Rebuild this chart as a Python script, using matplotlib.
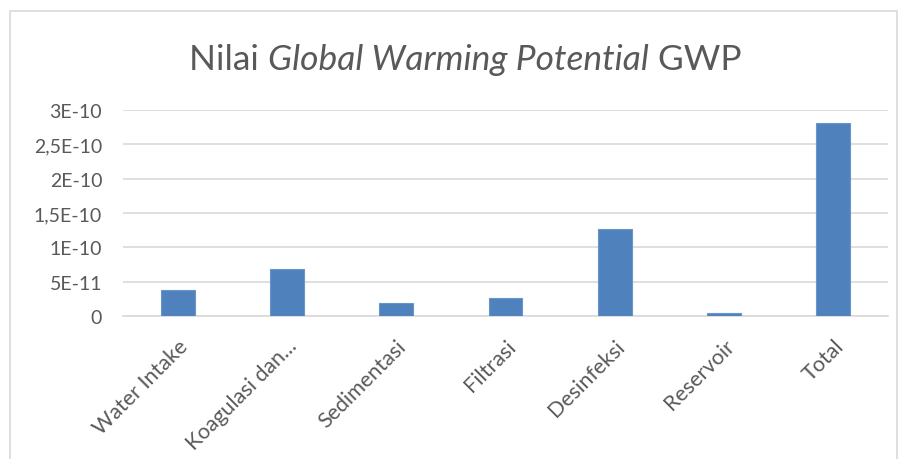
import matplotlib
matplotlib.use("Agg")
import matplotlib.pyplot as plt
from matplotlib.patches import Rectangle

categories = ["Water Intake", "Koagulasi dan...", "Sedimentasi", "Filtrasi",
              "Desinfeksi", "Reservoir", "Total"]
values = [3.8e-11, 6.9e-11, 1.9e-11, 2.6e-11, 1.26e-10, 0.4e-11, 2.81e-10]
ytick_values = [0, 5e-11, 1e-10, 1.5e-10, 2e-10, 2.5e-10, 3e-10]
ytick_labels = ["0", "5E-11", "1E-10", "1,5E-10", "2E-10", "2,5E-10", "3E-10"]
title_parts = [("Nilai ", "normal"), ("Global Warming Potential", "italic"), (" GWP", "normal")]

plt.rcParams['font.family'] = ['Lato', 'DejaVu Sans']
W, H = 907, 460
fig = plt.figure(figsize=(W / 100, H / 100), dpi=100)
fig.patch.set_facecolor("white")

# chart border
fig.patches.append(Rectangle((10 / W, 1 - 470 / H), 887 / W, 458 / H,
                             transform=fig.transFigure, fill=False,
                             edgecolor="#D9D9D9", linewidth=1.2))

ax = fig.add_axes([123 / W, 1 - 317 / H, (888 - 123) / W, (317 - 111) / H])
x = range(len(categories))
ax.bar(x, values, width=0.31, color="#4F81BD", edgecolor="#6A95C8", linewidth=0.8, zorder=3)
ax.set_xlim(-0.5, len(categories) - 0.5)
ax.set_ylim(0, 3e-10)
ax.set_yticks(ytick_values)
ax.set_yticklabels(ytick_labels, fontsize=14, color="#595959")
ax.set_xticks(list(x))
ax.set_xticklabels(categories, rotation=45, ha="right", rotation_mode="anchor",
                   fontsize=15.5, color="#595959")
ax.tick_params(axis="both", length=0)
ax.tick_params(axis="y", pad=15)
ax.tick_params(axis="x", pad=14)
ax.grid(axis="y", color="#D9D9D9", linewidth=1.2, zorder=0)
for s in ["top", "right", "left"]:
    ax.spines[s].set_visible(False)
ax.spines["bottom"].set_color("#D9D9D9")
ax.spines["bottom"].set_linewidth(1.2)

# title with mixed styles
texts = []
for t, style in title_parts:
    texts.append(fig.text(0, 1 - 70 / H, t, fontsize=25.5, style=style, color="#595959",
                          va="baseline", ha="left"))
fig.canvas.draw()
r = fig.canvas.get_renderer()
widths = [tx.get_window_extent(r).width for tx in texts]
total = sum(widths)
cx = 465
start = cx - total / 2
for tx, w in zip(texts, widths):
    tx.set_x(start / W)
    start += w

fig.savefig("out.png", dpi=100, facecolor="white")
